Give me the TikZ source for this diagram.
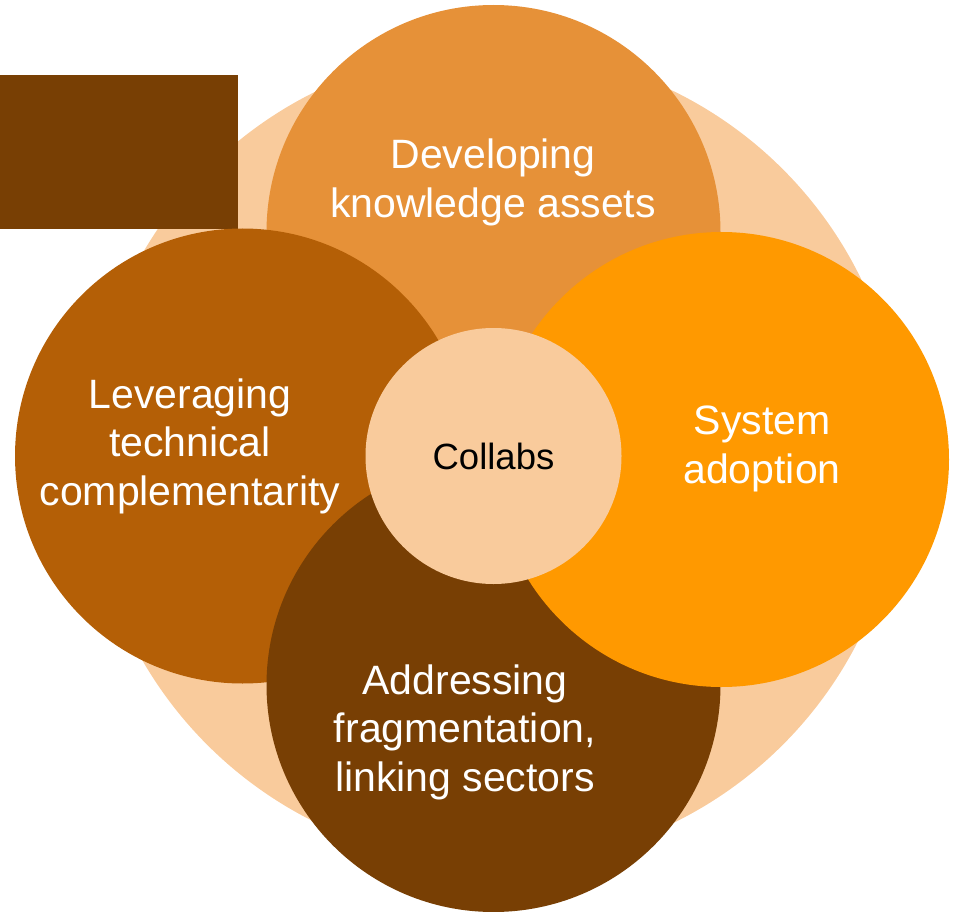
\documentclass[tikz,border=0pt]{standalone}
\usepackage{fontspec}
\setmainfont{Liberation Sans}
\definecolor{peach}{HTML}{F9CB9C}
\definecolor{orangeA}{HTML}{E69138}
\definecolor{orangeB}{HTML}{B45F06}
\definecolor{orangeC}{HTML}{FF9900}
\definecolor{brownD}{HTML}{783F04}
\tikzset{
  lbl/.style={text=white, align=center, inner sep=0pt, font=\fontsize{41}{48.5}\selectfont},
  clbl/.style={text=black, align=center, inner sep=0pt, font=\fontsize{36.5}{43}\selectfont}
}
\begin{document}
\begin{tikzpicture}[x=1pt,y=-1pt]
\useasboundingbox (0,0) rectangle (961,912);
% background disc
\fill[peach] (495,457) circle[radius=407pt];
% corner rectangle
\fill[brownD] (0,75) rectangle (238,229);
% four circles
\fill[orangeA] (493.5,232) circle[radius=227pt];
\fill[orangeB] (242.5,456) circle[radius=227.5pt];
\fill[brownD] (493.5,685) circle[radius=227pt];
\fill[orangeC] (721.5,459.5) circle[radius=227.5pt];
% centre disc
\fill[peach] (493.5,456) circle[radius=128pt];
% labels
\node[lbl] (top) at (493,182.2) {Developing\\knowledge assets};
\node[lbl] (left) at (190,445.9) {Leveraging\\technical\\complementarity};
\node[lbl] (right) at (762,448.7) {System\\adoption};
\node[lbl] (bottom) at (465,731.9) {Addressing\\fragmentation,\\linking sectors};
\node[clbl] (centre) at (493.5,456.3) {Collabs};
\end{tikzpicture}
\end{document}
